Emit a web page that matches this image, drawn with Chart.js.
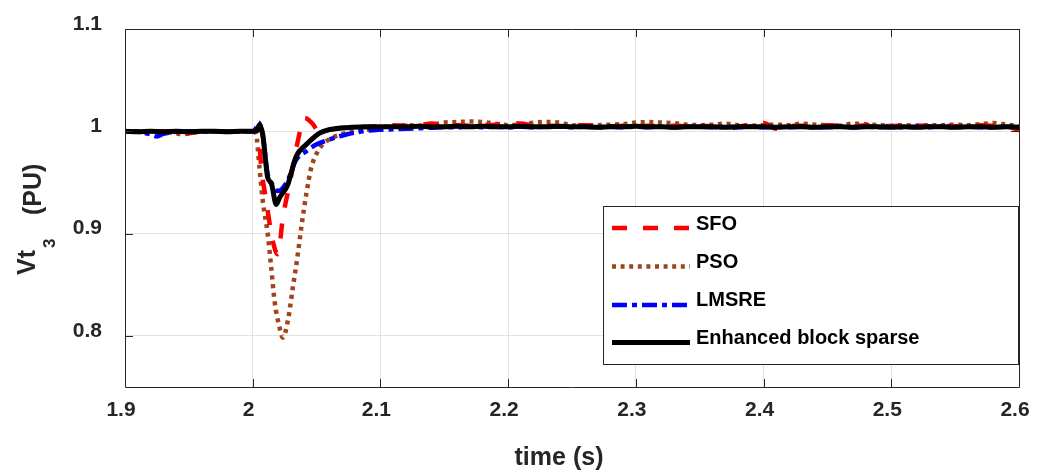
<!DOCTYPE html>
<html>
<head>
<meta charset="utf-8">
<script src="https://cdn.jsdelivr.net/npm/chart.js@4.4.1/dist/chart.umd.min.js"></script>
<style>
  html, body { margin: 0; padding: 0; background: #fff; }
  #wrap { width: 1045px; height: 472px; }
</style>
</head>
<body>
<div id="wrap"><canvas id="chart" width="1045" height="472"></canvas></div>
<script>
// Tick values
const xTicks = [1.9, 2.0, 2.1, 2.2, 2.3, 2.4, 2.5, 2.6];
const yTicks = [0.8, 0.9, 1.0, 1.1];

// Shared steady-state time base (s)
const steadyTime = [2.11, 2.12, 2.13, 2.14, 2.15, 2.16, 2.17, 2.18, 2.19, 2.2,
    2.21, 2.22, 2.23, 2.24, 2.25, 2.26, 2.27, 2.28, 2.29, 2.3,
    2.31, 2.32, 2.33, 2.34, 2.35, 2.36, 2.37, 2.38, 2.39, 2.4,
    2.41, 2.42, 2.43, 2.44, 2.45, 2.46, 2.47, 2.48, 2.49, 2.5,
    2.51, 2.52, 2.53, 2.54, 2.55, 2.56, 2.57, 2.58, 2.59, 2.6];

// SFO
const sfoTime = [1.9, 1.91, 1.92, 1.93, 1.94, 1.945, 1.95, 1.96, 1.97, 1.98, 1.99, 2.0, 2.004, 2.0067, 2.0106, 2.0157, 2.0197, 2.0236, 2.0288, 2.0353, 2.0405, 2.0465, 2.0515, 2.058, 2.07, 2.085, 2.1];
const sfoValue = [1.0, 1.0, 0.9995, 1.0, 0.998, 0.997, 0.998, 1.0, 0.9995, 1.0, 1.0, 1.0, 1.003, 0.9642, 0.9317, 0.8927, 0.8797, 0.9154, 0.948, 0.9902, 1.013, 1.008, 1.0005, 1.001, 1.0035, 1.0045, 1.005];
const sfoSteady = [1.006, 1.0055, 1.006, 1.0075, 1.0065, 1.006, 1.0055, 1.006, 1.0065, 1.008,
    1.0075, 1.006, 1.0055, 1.005, 1.0055, 1.006, 1.0055, 1.005, 1.0055, 1.005,
    1.0055, 1.005, 1.0055, 1.005, 1.0055, 1.0045, 1.002, 1.0045, 1.0065, 1.008,
    1.0025, 1.005, 1.0055, 1.005, 1.006, 1.0055, 1.005, 1.006, 1.0055, 1.005,
    1.006, 1.0055, 1.005, 1.0055, 1.005, 1.0055, 1.006, 1.0055, 1.005, 1.001];

// PSO
const psoTime = [1.9, 1.91, 1.92, 1.93, 1.94, 1.945, 1.95, 1.96, 1.97, 1.98, 1.99, 2.0, 2.0027, 2.0053, 2.0079, 2.0118, 2.0145, 2.0171, 2.021, 2.0236, 2.0275, 2.0314, 2.0353, 2.038, 2.0419, 2.0458, 2.051, 2.0576, 2.072, 2.091, 2.1];
const psoValue = [1.0, 0.9995, 1.0, 0.9995, 0.998, 0.997, 0.998, 0.9995, 1.0, 0.9995, 1.0, 1.0, 0.9968, 0.9642, 0.9317, 0.8992, 0.8666, 0.8341, 0.8081, 0.7983, 0.8146, 0.8471, 0.8797, 0.9057, 0.9382, 0.9642, 0.9805, 0.9902, 0.998, 1.002, 1.004];
const psoSteady = [1.005, 1.006, 1.0055, 1.006, 1.0085, 1.009, 1.0095, 1.009, 1.0075, 1.006,
    1.0065, 1.0085, 1.009, 1.0085, 1.006, 1.0055, 1.006, 1.0065, 1.007, 1.0085,
    1.009, 1.0085, 1.008, 1.0065, 1.006, 1.0065, 1.0075, 1.006, 1.0055, 1.006,
    1.0065, 1.006, 1.0075, 1.0065, 1.006, 1.0055, 1.0075, 1.007, 1.006, 1.0055,
    1.006, 1.0055, 1.006, 1.006, 1.0065, 1.006, 1.007, 1.008, 1.0065, 1.005];

// LMSRE
const lmsreTime = [1.9, 1.91, 1.92, 1.925, 1.93, 1.94, 1.95, 1.96, 1.97, 1.98, 1.99, 2.0, 2.003, 2.0045, 2.0075, 2.0118, 2.0165, 2.0197, 2.027, 2.034, 2.042, 2.0497, 2.0602, 2.0732, 2.0862, 2.1];
const lmsreValue = [1.0, 0.9995, 0.997, 0.995, 0.9975, 0.9995, 1.0, 0.9995, 1.0, 0.9995, 1.0, 1.0, 1.004, 1.0085, 0.9985, 0.9575, 0.9465, 0.9415, 0.951, 0.972, 0.9805, 0.987, 0.992, 0.9968, 1.0, 1.0015];
const lmsreSteady = [1.002, 1.0025, 1.003, 1.0035, 1.004, 1.004, 1.0045, 1.004, 1.0045, 1.004,
    1.0045, 1.004, 1.0045, 1.0045, 1.004, 1.0045, 1.004, 1.0045, 1.004, 1.0045,
    1.004, 1.0045, 1.004, 1.0045, 1.0045, 1.004, 1.0045, 1.004, 1.0045, 1.004,
    1.0045, 1.004, 1.0045, 1.004, 1.004, 1.0045, 1.004, 1.0045, 1.004, 1.0045,
    1.004, 1.0045, 1.004, 1.0045, 1.004, 1.0045, 1.004, 1.004, 1.0045, 1.0035];

// Enhanced block sparse
const ebsTime = [1.9, 1.91, 1.92, 1.93, 1.94, 1.95, 1.96, 1.97, 1.98, 1.99, 2.0, 2.003, 2.0053, 2.0079, 2.0118, 2.0145, 2.0184, 2.021, 2.0275, 2.0301, 2.0341, 2.0419, 2.0523, 2.0602, 2.0732, 2.0836, 2.1];
const ebsValue = [1.0, 0.9995, 1.0, 0.9995, 1.0, 0.9995, 1.0, 1.0, 0.9995, 1.0, 1.0, 1.0005, 1.0065, 0.9968, 0.9544, 0.9496, 0.9285, 0.935, 0.948, 0.9593, 0.9756, 0.987, 0.9983, 1.0017, 1.0035, 1.0042, 1.0045];
const ebsSteady = [1.0045, 1.0045, 1.005, 1.0045, 1.0045, 1.005, 1.0045, 1.005, 1.0045, 1.0045,
    1.005, 1.0045, 1.0045, 1.005, 1.0045, 1.0045, 1.004, 1.0045, 1.0045, 1.005,
    1.0045, 1.0045, 1.004, 1.0045, 1.0045, 1.0045, 1.004, 1.0045, 1.0045, 1.0045,
    1.004, 1.0045, 1.0045, 1.004, 1.0045, 1.0045, 1.004, 1.0045, 1.0045, 1.004,
    1.0045, 1.004, 1.0045, 1.0045, 1.004, 1.0045, 1.0045, 1.004, 1.0045, 1.004];

const FONT = '"Liberation Sans", Arial, Helvetica, sans-serif';
const AXIS_COLOR = '#262626';

function points(time, value, steady) {
    const t = time.concat(steadyTime);
    const v = value.concat(steady);
    return t.map((x, i) => ({ x: x, y: v[i] }));
}

const series = [
    { label: 'SFO', color: '#ff0000', width: 4.5, dash: [15, 16], order: 3, data: points(sfoTime, sfoValue, sfoSteady) },
    { label: 'PSO', color: '#a0441a', width: 4.5, dash: [4, 4.6], order: 4, data: points(psoTime, psoValue, psoSteady) },
    { label: 'LMSRE', color: '#0000ff', width: 4.5, dash: [15, 5, 5, 5], order: 2, data: points(lmsreTime, lmsreValue, lmsreSteady) },
    { label: 'Enhanced block sparse', color: '#000000', width: 5, dash: [], order: 1, data: points(ebsTime, ebsValue, ebsSteady) }
];

// Box, inward ticks, axis titles and legend, MATLAB style
const matlabDecor = {
    id: 'matlabDecor',
    afterDraw(chart) {
        const { ctx, chartArea: a, scales } = chart;
        const tl = 8;
        ctx.save();
        ctx.strokeStyle = AXIS_COLOR;
        ctx.lineWidth = 1;
        ctx.setLineDash([]);
        ctx.beginPath();
        ctx.rect(a.left + 0.5, a.top + 0.5, a.right - a.left, a.bottom - a.top);
        xTicks.forEach(v => {
            const px = Math.round(scales.x.getPixelForValue(v)) + 0.5;
            ctx.moveTo(px, a.bottom); ctx.lineTo(px, a.bottom - tl);
            ctx.moveTo(px, a.top); ctx.lineTo(px, a.top + tl);
        });
        yTicks.forEach(v => {
            const py = Math.round(scales.y.getPixelForValue(v)) + 0.5;
            ctx.moveTo(a.left, py); ctx.lineTo(a.left + tl, py);
            ctx.moveTo(a.right, py); ctx.lineTo(a.right - tl, py);
        });
        ctx.stroke();

        // axis titles
        ctx.fillStyle = AXIS_COLOR;
        ctx.textBaseline = 'alphabetic';
        ctx.textAlign = 'center';
        ctx.font = 'bold 25px ' + FONT;
        ctx.fillText('time (s)', 559, 465);

        ctx.textAlign = 'left';
        ctx.save();
        ctx.translate(35, 275);
        ctx.rotate(-Math.PI / 2);
        ctx.fillText('Vt', 0, 0);
        ctx.restore();
        ctx.save();
        ctx.translate(55, 248);
        ctx.rotate(-Math.PI / 2);
        ctx.font = 'bold 17px ' + FONT;
        ctx.fillText('3', 0, 0);
        ctx.restore();
        ctx.save();
        ctx.translate(41, 215);
        ctx.rotate(-Math.PI / 2);
        ctx.fillText('(PU)', 0, 0);
        ctx.restore();

        // legend
        const lx = 603.5, ly = 206.5, lw = 415, lh = 158;
        ctx.fillStyle = '#ffffff';
        ctx.fillRect(lx, ly, lw, lh);
        ctx.strokeRect(lx, ly, lw, lh);
        const lineY = [228, 266.5, 305, 342.5];
        const textY = [230, 268, 306, 343.5];
        ctx.font = 'bold 20px ' + FONT;
        series.forEach((s, i) => {
            ctx.beginPath();
            ctx.strokeStyle = s.color;
            ctx.lineWidth = s.width;
            ctx.lineCap = 'butt';
            ctx.setLineDash(s.dash);
            ctx.moveTo(612, lineY[i]);
            ctx.lineTo(690, lineY[i]);
            ctx.stroke();
            ctx.setLineDash([]);
            ctx.fillStyle = '#000000';
            ctx.fillText(s.label, 696, textY[i]);
        });
        ctx.restore();
    }
};

function tickLabel(v) {
    return String(Number(v.toFixed(2)));
}

new Chart(document.getElementById('chart'), {
    type: 'line',
    data: {
        datasets: series.map(s => ({
            label: s.label,
            data: s.data,
            borderColor: s.color,
            borderWidth: s.width,
            borderDash: s.dash,
            borderCapStyle: 'butt',
            borderJoinStyle: 'round',
            pointRadius: 0,
            cubicInterpolationMode: 'monotone',
            fill: false,
            order: s.order
        }))
    },
    options: {
        responsive: false,
        animation: false,
        events: [],
        layout: { padding: { top: 29, right: 26, left: 0, bottom: 0 } },
        plugins: {
            legend: { display: false },
            tooltip: { enabled: false }
        },
        scales: {
            x: {
                type: 'linear',
                min: 1.9,
                max: 2.6,
                afterFit: (scale) => {
                    scale.height = 85;
                    scale.paddingLeft = 0;
                    scale.paddingRight = 0;
                },
                afterBuildTicks: (scale) => { scale.ticks = xTicks.map(v => ({ value: v })); },
                grid: { color: '#e3e3e3', lineWidth: 1, drawTicks: false },
                border: { display: false },
                ticks: {
                    color: AXIS_COLOR,
                    font: { family: FONT, size: 21, weight: 'bold' },
                    padding: 11,
                    labelOffset: -4,
                    maxRotation: 0,
                    callback: tickLabel
                }
            },
            y: {
                type: 'linear',
                min: 0.75,
                max: 1.1,
                afterFit: (scale) => {
                    scale.width = 125;
                    scale.paddingTop = 0;
                    scale.paddingBottom = 0;
                },
                afterBuildTicks: (scale) => { scale.ticks = yTicks.map(v => ({ value: v })); },
                grid: { color: '#e3e3e3', lineWidth: 1, drawTicks: false },
                border: { display: false },
                ticks: {
                    color: AXIS_COLOR,
                    font: { family: FONT, size: 21, weight: 'bold' },
                    padding: 23,
                    labelOffset: -5,
                    callback: tickLabel
                }
            }
        }
    },
    plugins: [matlabDecor]
});
</script>
</body>
</html>
